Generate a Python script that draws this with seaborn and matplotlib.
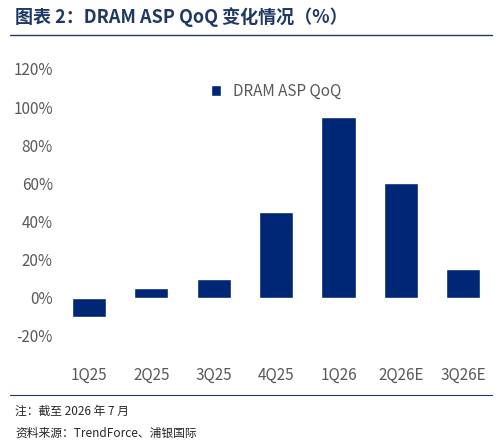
import matplotlib
matplotlib.use("Agg")
import matplotlib.pyplot as plt
import seaborn as sns
import pandas as pd

categories = ["1Q25", "2Q25", "3Q25", "4Q25", "1Q26", "2Q26E", "3Q26E"]
values = [-10, 5, 10, 45, 95, 60, 15]
yticks = [-20, 0, 20, 40, 60, 80, 100, 120]

sns.set_style("white")
plt.rcParams['font.family'] = ['Noto Sans CJK SC', 'DejaVu Sans']

fig = plt.figure(figsize=(5.02, 4.45), dpi=100)
ax = fig.add_axes([0.115, 0.245, 0.87, 0.60])
df = pd.DataFrame({"q": categories, "v": values})
sns.barplot(data=df, x="q", y="v", color="#002776", width=0.55, ax=ax,
            label="DRAM ASP QoQ", saturation=1)
ax.set_ylim(-20, 120)
ax.set_yticks(yticks)
ax.set_yticklabels([f"{t}%" for t in yticks], color="#595959", fontsize=11)
ax.tick_params(axis="x", colors="#595959", labelsize=11, pad=22, length=0)
ax.tick_params(axis="y", length=0)
ax.set_xlabel(""); ax.set_ylabel("")
for s in ax.spines.values():
    s.set_visible(False)
ax.legend(loc="upper center", frameon=False, fontsize=11, labelcolor="#595959",
          bbox_to_anchor=(0.5, 1.0), handlelength=0.7)

fig.text(0.03, 0.962, "图表 2：DRAM ASP QoQ 变化情况（%）", fontsize=13,
         fontweight="heavy", color="#1f3864", va="center")
fig.add_artist(plt.Line2D([0.02, 0.98], [0.922, 0.922], color="#1f3864", lw=1))
fig.add_artist(plt.Line2D([0.02, 0.98], [0.112, 0.112], color="#1f3864", lw=0.8))
fig.text(0.03, 0.075, "注：截至 2026 年 7 月", fontsize=8.5, va="center")
fig.text(0.03, 0.027, "资料来源：TrendForce、浦银国际", fontsize=8.5, va="center")
fig.savefig("out.png", dpi=100)
